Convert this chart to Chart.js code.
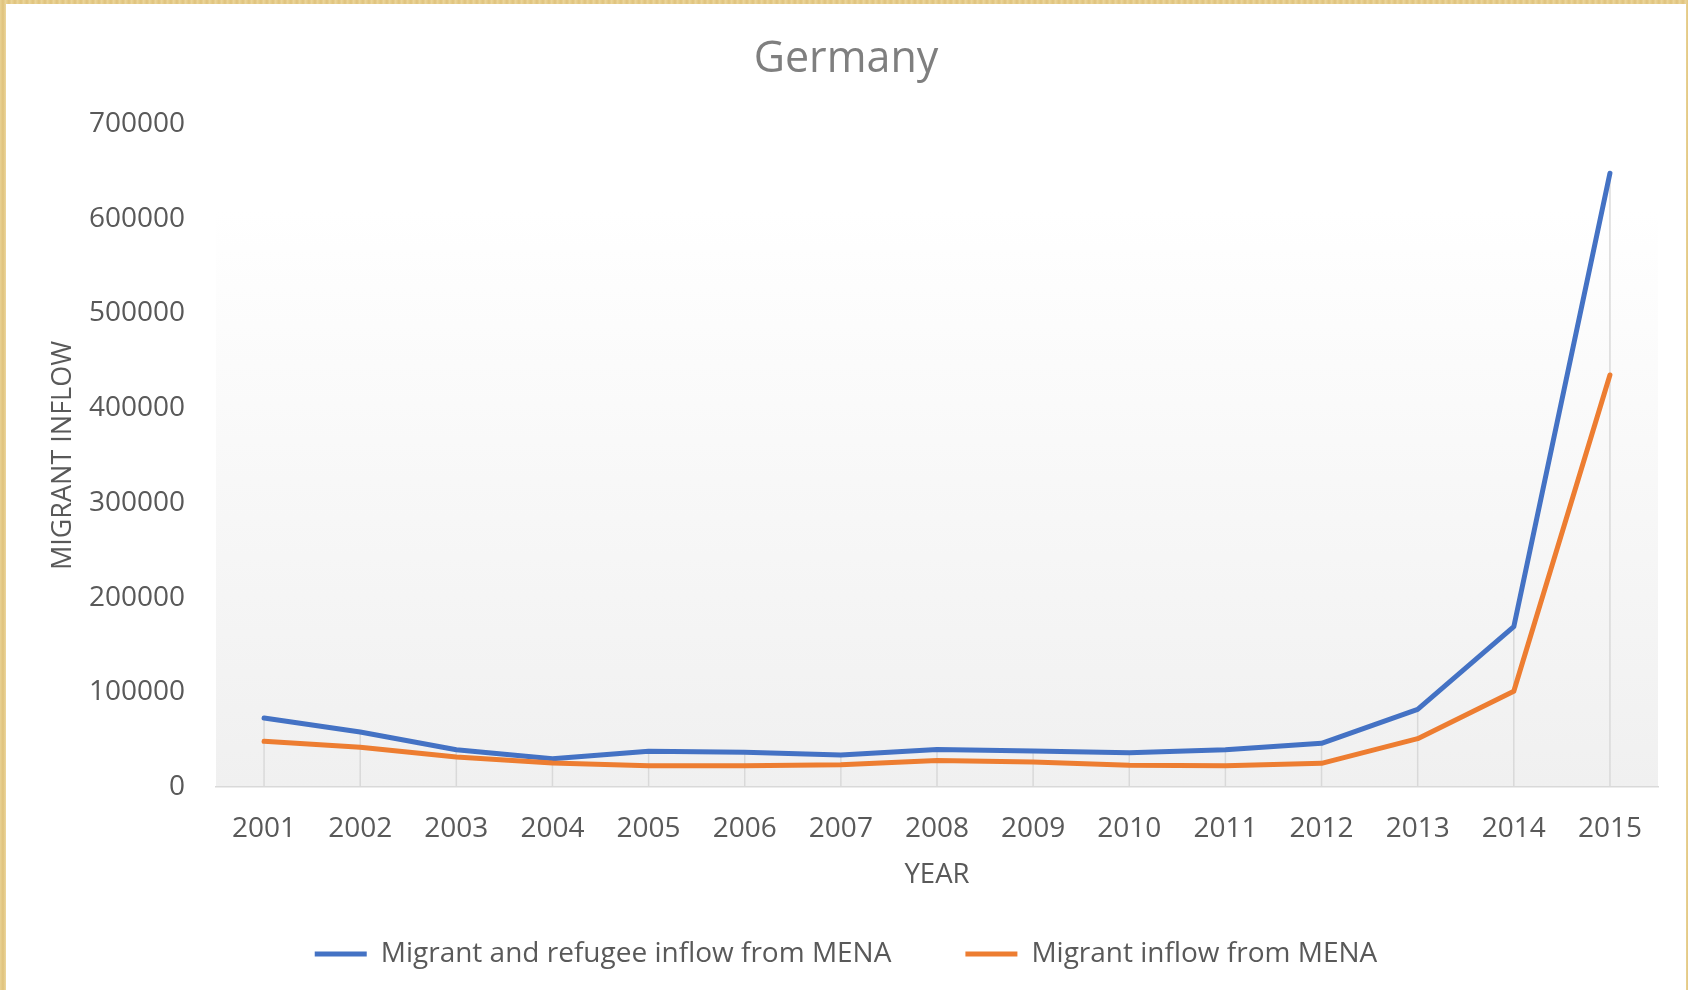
<!DOCTYPE html>
<html>
<head>
<meta charset="utf-8">
<title>Germany</title>
<script src="https://cdn.jsdelivr.net/npm/chart.js@4.4.1/dist/chart.umd.min.js"></script>
<style>
  html, body { margin: 0; padding: 0; }
  body {
    width: 1688px; height: 990px; position: relative; overflow: hidden;
    background: repeating-linear-gradient(90deg, #e9d293 0px, #dfc27c 3px, #ecd79d 6px);
  }
  #frame { position: absolute; left: 6px; top: 4px; width: 1680px; height: 986px; background: #fff; }
  canvas { display: block; }
</style>
</head>
<body>
<div id="frame"><canvas id="chart" width="1680" height="986"></canvas></div>
<script>
// values
const years = ['2001', '2002', '2003', '2004', '2005', '2006', '2007', '2008',
               '2009', '2010', '2011', '2012', '2013', '2014', '2015'];
const refugeeInflow = [72800, 58100, 39400, 29900, 37700, 36600, 33800, 39600,
                       38000, 36200, 39400, 46100, 82000, 169300, 648000];
const migrantInflow = [48200, 41900, 31700, 25300, 22500, 22500, 23600, 28000,
                       26400, 22900, 22500, 25000, 51000, 101000, 435000];
const yMax = 700000;
const yStep = 100000;

const textColor = '#595959';
Chart.defaults.font.family = "'Open Sans', sans-serif";

// plot area: white at the top fading to light grey
const plotBackground = {
  id: 'plotBackground',
  beforeDraw(chart) {
    const {ctx, chartArea: a} = chart;
    const g = ctx.createLinearGradient(0, a.top, 0, a.bottom);
    g.addColorStop(0, '#ffffff');
    g.addColorStop(0.13, '#ffffff');
    g.addColorStop(1, '#f0f0f0');
    ctx.save();
    ctx.fillStyle = g;
    ctx.fillRect(a.left, a.top, a.right - a.left, a.bottom - a.top);
    ctx.restore();
  }
};

// excel style drop lines from the highest point to the axis
const dropLines = {
  id: 'dropLines',
  beforeDatasetsDraw(chart) {
    const {ctx, scales: {x, y}} = chart;
    ctx.save();
    ctx.strokeStyle = '#d9d9d9';
    ctx.lineWidth = 1.5;
    years.forEach((yr, i) => {
      const px = x.getPixelForValue(i);
      const top = Math.max(refugeeInflow[i], migrantInflow[i]);
      ctx.beginPath();
      ctx.moveTo(px, y.getPixelForValue(top));
      ctx.lineTo(px, y.getPixelForValue(0));
      ctx.stroke();
    });
    ctx.restore();
  }
};

new Chart(document.getElementById('chart'), {
  type: 'line',
  data: {
    labels: years,
    datasets: [{
      label: 'Migrant and refugee inflow from MENA',
      data: refugeeInflow,
      borderColor: '#4472c4',
      backgroundColor: '#4472c4',
      borderWidth: 5,
      borderCapStyle: 'round',
      borderJoinStyle: 'round',
      pointRadius: 0,
      tension: 0,
      order: 1
    }, {
      label: 'Migrant inflow from MENA',
      data: migrantInflow,
      borderColor: '#ed7d31',
      backgroundColor: '#ed7d31',
      borderWidth: 5,
      borderCapStyle: 'round',
      borderJoinStyle: 'round',
      pointRadius: 0,
      tension: 0,
      order: 0
    }]
  },
  options: {
    responsive: false,
    animation: false,
    layout: { padding: { left: 0, right: 0, top: 0, bottom: 12 } },
    scales: {
      x: {
        offset: true,
        grid: { display: false, drawTicks: false },
        border: { display: true, color: '#d9d9d9', width: 1.5 },
        ticks: {
          color: textColor,
          font: { size: 28 },
          padding: 25,
          maxRotation: 0,
          autoSkip: false
        },
        title: {
          display: true,
          text: 'YEAR',
          color: textColor,
          font: { size: 27.5 },
          padding: { top: 0, bottom: -25.5 }
        },
        afterFit(s) { s.height = 79; }
      },
      y: {
        min: 0,
        max: yMax,
        grid: { display: false, drawTicks: false },
        border: { display: false },
        ticks: {
          stepSize: yStep,
          color: textColor,
          font: { size: 28 },
          padding: 31,
          callback: (v) => String(v)
        },
        title: {
          display: true,
          text: 'MIGRANT INFLOW',
          color: textColor,
          font: { size: 27 },
          padding: { top: 41.5, bottom: 0 }
        },
        afterFit(s) { s.width = 210; }
      },
      // empty spacer on the right so title and legend stay centred
      spacer: {
        type: 'linear',
        position: 'right',
        grid: { display: false, drawTicks: false },
        border: { display: false },
        ticks: { display: false },
        afterFit(s) { s.width = 28; }
      }
    },
    plugins: {
      title: {
        display: true,
        text: 'Germany',
        color: '#7f7f7f',
        font: { size: 43, weight: 'normal' },
        padding: { top: 30, bottom: 38.4 }
      },
      legend: {
        position: 'bottom',
        labels: {
          usePointStyle: true,
          pointStyle: 'line',
          pointStyleWidth: 52,
          color: textColor,
          font: { size: 28 },
          padding: 74,
          sort: (a, b) => a.datasetIndex - b.datasetIndex
        }
      },
      tooltip: { enabled: false }
    }
  },
  plugins: [plotBackground, dropLines]
});
</script>
</body>
</html>
